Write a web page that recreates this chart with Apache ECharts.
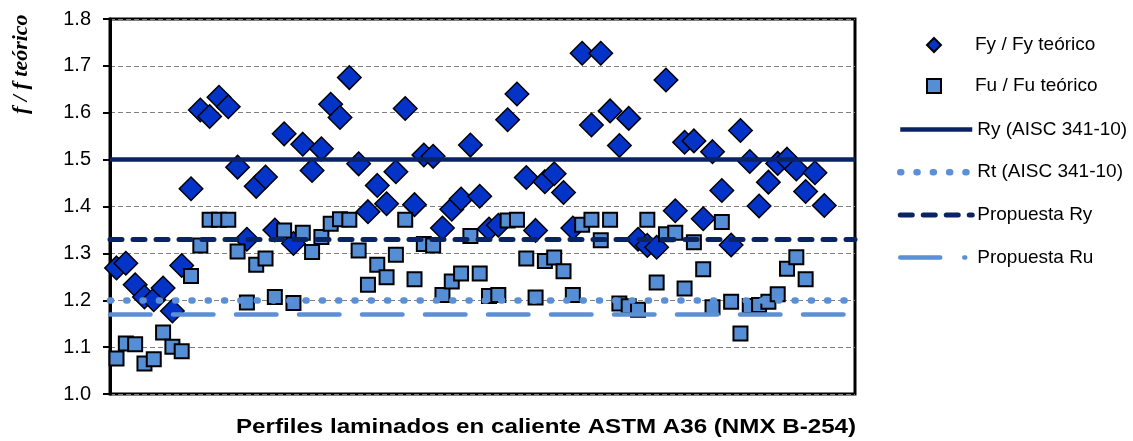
<!DOCTYPE html>
<html>
<head>
<meta charset="utf-8">
<script src="https://cdn.jsdelivr.net/npm/echarts@6/dist/echarts.min.js"></script>
<style>
  html, body { margin: 0; padding: 0; background: #ffffff; }
  #chart { width: 1133px; height: 441px; }
</style>
</head>
<body>
<div id="chart"></div>
<script>
// ---- Data ----
const fyRatio = [1.269, 1.279, 1.233, 1.207, 1.201, 1.226, 1.177, 1.274, 1.438, 1.606,
  1.592, 1.633, 1.613, 1.484, 1.330, 1.443, 1.463, 1.350, 1.555, 1.321,
  1.533, 1.477, 1.523, 1.618, 1.590, 1.675, 1.491, 1.389, 1.445, 1.406,
  1.474, 1.609, 1.404, 1.510, 1.507, 1.354, 1.394, 1.416, 1.531, 1.422,
  1.352, 1.360, 1.585, 1.640, 1.462, 1.349, 1.453, 1.470, 1.430, 1.354,
  1.727, 1.574, 1.727, 1.604, 1.530, 1.588, 1.330, 1.317, 1.313, 1.670,
  1.391, 1.537, 1.540, 1.374, 1.517, 1.434, 1.318, 1.562, 1.496, 1.401,
  1.452, 1.492, 1.501, 1.480, 1.432, 1.472, 1.402];
const fuRatio = [1.076, 1.108, 1.106, 1.065, 1.074, 1.131, 1.101, 1.091, 1.252, 1.317,
  1.372, 1.372, 1.372, 1.304, 1.195, 1.276, 1.289, 1.207, 1.349, 1.194,
  1.344, 1.303, 1.335, 1.363, 1.373, 1.372, 1.306, 1.233, 1.276, 1.249,
  1.297, 1.372, 1.245, 1.320, 1.317, 1.211, 1.240, 1.257, 1.337, 1.257,
  1.209, 1.211, 1.370, 1.372, 1.289, 1.206, 1.284, 1.291, 1.262, 1.211,
  1.361, 1.372, 1.328, 1.372, 1.193, 1.187, 1.180, 1.372, 1.238, 1.341,
  1.344, 1.225, 1.324, 1.266, 1.185, 1.367, 1.197, 1.129, 1.188, 1.190,
  1.197, 1.213, 1.267, 1.292, 1.245, null, null];
const refRy = 1.5;        // Ry (AISC 341-10)
const refRt = 1.2;        // Rt (AISC 341-10)
const propRy = 1.33;      // Propuesta Ry
const propRu = 1.173;     // Propuesta Ru
const yTicks = [1.0, 1.1, 1.2, 1.3, 1.4, 1.5, 1.6, 1.7, 1.8];
const seriesNames = ['Fy / Fy teórico', 'Fu / Fu teórico', 'Ry (AISC 341-10)',
  'Rt (AISC 341-10)', 'Propuesta Ry', 'Propuesta Ru'];
const xTitle = 'Perfiles laminados en caliente ASTM A36 (NMX B-254)';
const yTitle = 'f / f teórico';

// ---- Build chart ----
const navy = '#0A2363';
const light = '#5B8FD6';
const diamondFill = '#0433C8';
const squareFill = '#558ED5';
const sans = '"Liberation Sans", Arial, sans-serif';

const fyData = fyRatio.map((v, i) => [i + 1, v]);
const fuData = fuRatio.map((v, i) => v == null ? null : [i + 1, v]).filter(d => d);

function refSeries(name, value, ls) {
  return {
    name: name, type: 'line', data: [], symbol: 'none',
    lineStyle: ls, itemStyle: { color: ls.color },
    markLine: {
      silent: true, symbol: 'none', z: 5,
      label: { show: false },
      lineStyle: ls,
      emphasis: { disabled: true },
      data: [{ yAxis: value }]
    }
  };
}

const legendText = { color: '#000', fontFamily: sans, fontSize: 19, lineHeight: 20 };

const chart = echarts.init(document.getElementById('chart'), null, { renderer: 'canvas' });
chart.setOption({
  animation: false,
  backgroundColor: '#ffffff',
  grid: { left: 110, right: 278, top: 19, bottom: 47, show: true,
    borderColor: '#000', borderWidth: 3, backgroundColor: 'transparent' },
  xAxis: {
    type: 'value', min: 0.3, max: 80.3,
    axisLine: { show: false }, axisTick: { show: false },
    axisLabel: { show: false }, splitLine: { show: false }
  },
  yAxis: {
    type: 'value', min: yTicks[0], max: yTicks[yTicks.length - 1], interval: 0.1,
    axisLine: { show: true, lineStyle: { color: '#000', width: 3 } },
    axisTick: { show: true, length: 7, lineStyle: { color: '#000', width: 2 } },
    axisLabel: { color: '#000', fontFamily: sans, fontSize: 20, margin: 19,
      formatter: v => v.toFixed(1) },
    splitLine: { show: true, lineStyle: { color: '#808080', width: 1, type: [5, 3] } }
  },
  legend: [
    {
      orient: 'vertical', left: 926, top: 35, padding: 0,
      itemWidth: 14, itemHeight: 14, itemGap: 21,
      textStyle: Object.assign({ padding: [0, 0, 0, 29] }, legendText),
      selectedMode: false,
      data: [{ name: seriesNames[0] }, { name: seriesNames[1] }]
    },
    {
      orient: 'vertical', left: 897, top: 119.5, padding: 0,
      itemWidth: 72, itemHeight: 14, itemGap: 22.7,
      textStyle: legendText,
      lineStyle: { width: 'inherit' },
      selectedMode: false,
      data: [
        { name: seriesNames[2], itemStyle: { opacity: 0 } },
        { name: seriesNames[3], itemStyle: { opacity: 0 } },
        { name: seriesNames[4], itemStyle: { opacity: 0 } },
        { name: seriesNames[5], itemStyle: { opacity: 0 },
          lineStyle: { type: [40, 24, 1, 100] } }
      ]
    }
  ],
  series: [
    { name: seriesNames[0], type: 'scatter', symbol: 'diamond', symbolSize: 23.5, z: 2,
      itemStyle: { color: diamondFill, borderColor: '#000', borderWidth: 1.5, opacity: 1 },
      data: fyData },
    { name: seriesNames[1], type: 'scatter', symbol: 'rect', symbolSize: 14, z: 3,
      itemStyle: { color: squareFill, borderColor: '#000', borderWidth: 2, opacity: 1 },
      data: fuData },
    refSeries(seriesNames[2], refRy, { color: navy, width: 4.5, type: 'solid' }),
    refSeries(seriesNames[3], refRt, { color: light, width: 6.5, type: [1, 15.3], cap: 'round' }),
    refSeries(seriesNames[4], propRy, { color: navy, width: 5, type: [12, 11], cap: 'round' }),
    refSeries(seriesNames[5], propRu, { color: light, width: 4.5, type: [40.5, 22.5], cap: 'round' })
  ],
  graphic: [
    { type: 'text', left: 236, top: 417, scaleX: 1.15,
      style: { text: xTitle, fill: '#000', font: 'bold 21px "Liberation Sans", Arial, sans-serif' } },
    { type: 'text', x: 10, y: 114, rotation: Math.PI / 2,
      style: { text: yTitle, fill: '#000',
        font: 'italic bold 22px "Liberation Serif", "Times New Roman", serif',
        textAlign: 'left', textVerticalAlign: 'top' },
      originX: 0, originY: 0 }
  ]
});
</script>
</body>
</html>
